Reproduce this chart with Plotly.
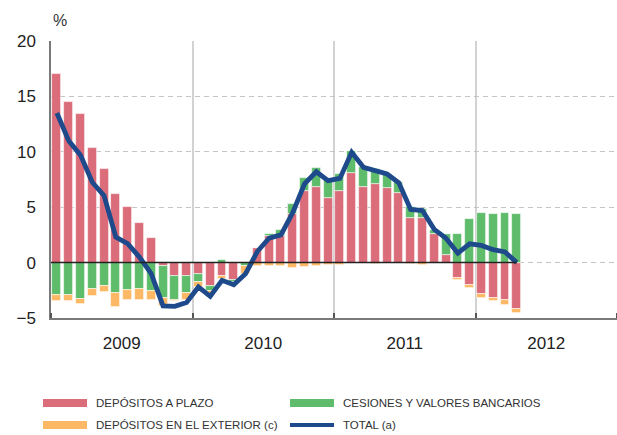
import plotly.graph_objects as go

# Monthly data, Jan 2009 - Apr 2012 (%)
months = list(range(40))
years = ["2009", "2010", "2011", "2012"]
year_centers = [6, 18, 30, 42]
y_ticks = [-5, 0, 5, 10, 15, 20]

depositos_plazo = [17.05, 14.5, 13.4, 10.3, 8.45, 6.2, 5.0, 3.6, 2.25, -0.3, -1.25, -1.2,
                   -1.0, -2.1, -1.2, -1.55, 0.0, 1.3, 2.4, 2.4, 4.4, 6.5, 6.8, 5.85,
                   6.5, 8.05, 6.8, 7.1, 6.7, 6.3, 4.0, 4.0, 2.6, 0.7, -1.4, -2.0,
                   -2.85, -3.15, -3.4, -4.2]
cesiones = [-2.9, -2.95, -3.25, -2.4, -2.1, -2.7, -2.45, -2.4, -2.6, -2.9, -2.1, -1.5,
            -0.75, -0.5, 0.25, -0.2, -0.35, 0.0, 0.2, 0.5, 0.85, 1.1, 1.7, 1.6,
            1.5, 2.0, 1.8, 1.35, 1.3, 1.0, 1.0, 0.85, 0.3, 1.9, 2.6, 3.95,
            4.46, 4.35, 4.5, 4.4]
exterior = [-0.57, -0.55, -0.45, -0.63, -0.55, -1.3, -0.95, -1.0, -0.8, -0.7, -0.1, -0.7,
            -0.45, -0.35, -0.3, -0.15, -0.65, -0.3, -0.35, -0.35, -0.5, -0.4, -0.3, -0.2,
            -0.2, 0.0, 0.0, -0.15, 0.0, 0.0, -0.1, -0.2, 0.0, 0.0, -0.2, -0.3,
            -0.3, -0.3, -0.4, -0.35]
total = [13.5, 11.0, 9.7, 7.25, 6.05, 2.3, 1.7, 0.5, -1.0, -3.9, -3.95, -3.6,
         -2.2, -3.05, -1.6, -2.0, -1.0, 1.0, 2.2, 2.5, 4.5, 7.1, 8.2, 7.4,
         7.6, 9.95, 8.6, 8.3, 8.0, 7.2, 4.8, 4.7, 3.0, 2.2, 0.85, 1.7,
         1.55, 1.17, 0.96, 0.0]

names = ["DEPÓSITOS A PLAZO", "CESIONES Y VALORES BANCARIOS",
         "DEPÓSITOS EN EL EXTERIOR (c)", "TOTAL (a)"]
RED, GREEN, ORANGE, NAVY = "#DB6D7B", "#5EBC6B", "#FDB865", "#1E4A8B"

x = [m + 0.5 for m in months]

W, H = 617, 435
ML, MT, MB = 51, 41, 117

fig = go.Figure()
for vals, col, nm in [(depositos_plazo, RED, names[0]),
                      (cesiones, GREEN, names[1]),
                      (exterior, ORANGE, names[2])]:
    fig.add_trace(go.Bar(x=x, y=vals, name=nm, width=0.76,
                         marker=dict(color=col, line=dict(color="rgba(255,255,255,0.7)", width=0.8)),
                         showlegend=False))

# zero line drawn only across the data span (gridline dashed beyond)
fig.add_shape(type="line", xref="x", yref="y", x0=0, x1=x[-1], y0=0, y1=0,
              line=dict(color="#222", width=1.5), layer="above")

fig.add_trace(go.Scatter(x=x, y=total, mode="lines", name=names[3],
                         line=dict(color=NAVY, width=4.8), showlegend=False))

font_main = "Liberation Sans, Arial, sans-serif"

fig.update_layout(
    width=W, height=H,
    margin=dict(l=ML, r=0, t=MT, b=MB),
    paper_bgcolor="white", plot_bgcolor="white",
    barmode="relative", bargap=0,
    font=dict(family=font_main, size=17, color="#222"),
    xaxis=dict(range=[0, 48], tickmode="array", tickvals=year_centers, ticktext=years,
               ticks="", showgrid=False, zeroline=False,
               showline=True, linecolor="#7a7a7a", linewidth=2,
               ticklabelstandoff=9,
               tickfont=dict(size=17, color="#222"),
               minor=dict(tick0=0, dtick=12, showgrid=True, gridcolor="#d2d2d2", gridwidth=2,
                          ticks="inside", ticklen=5, tickcolor="#555", tickwidth=2)),
    yaxis=dict(range=[-5, 20], tickmode="array", tickvals=y_ticks,
               showgrid=True, gridcolor="#c4c4c4", griddash="5px,4px", gridwidth=1,
               zeroline=False,
               showline=True, linecolor="#7a7a7a", linewidth=1.5,
               ticks="", ticklabelstandoff=10,
               tickfont=dict(size=17, color="#222")),
)

fig.add_annotation(text="%", xref="paper", yref="paper", x=0.0, y=1.0, yshift=21,
                   xanchor="left", yanchor="middle", showarrow=False,
                   font=dict(size=16, color="#333"))

# Manual legend (wide swatches); positions in window pixels
leg = [(names[0], RED, 43, 403, 8), (names[1], GREEN, 290, 403, 8),
       (names[2], ORANGE, 43, 425, 8), (names[3], NAVY, 290, 425, 4)]
pw = W - ML
ph = H - MT - MB
for nm, col, px, py, th in leg:
    x0 = (px - ML) / pw
    x1 = (px + 44 - ML) / pw
    yc = (H - MB - py) / ph
    fig.add_shape(type="rect", xref="paper", yref="paper",
                  x0=x0, x1=x1, y0=yc - th / 2 / ph, y1=yc + th / 2 / ph,
                  fillcolor=col, line=dict(width=0))
    fig.add_annotation(text=nm, xref="paper", yref="paper", x=(px + 51 - ML) / pw, y=yc,
                       xanchor="left", yanchor="middle", showarrow=False,
                       font=dict(family=font_main, size=11.5, color="#333"))

fig.write_html("out.html", config={"displayModeBar": False},
               post_script="document.body.style.margin='0';document.body.style.overflow='hidden';")
